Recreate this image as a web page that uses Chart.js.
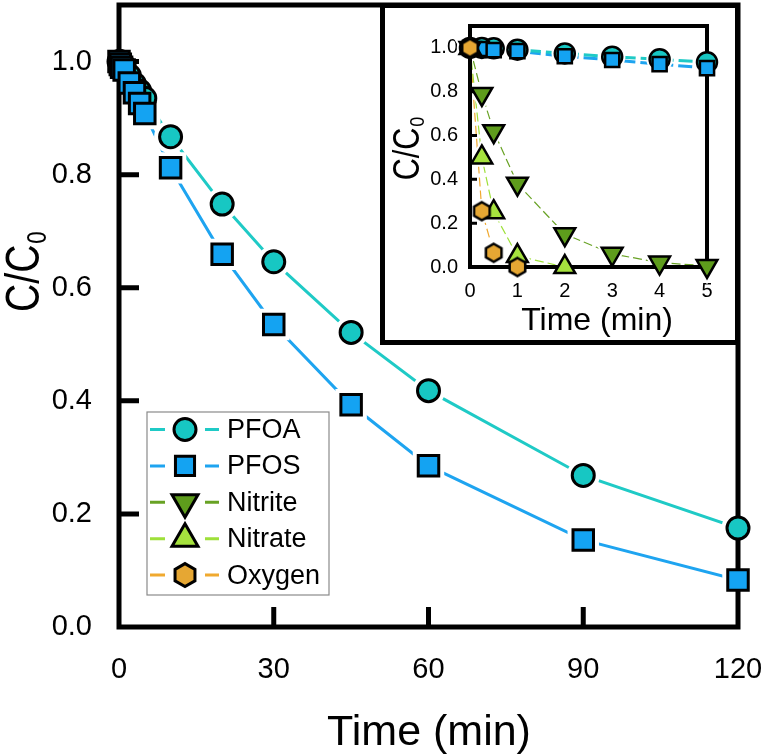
<!DOCTYPE html>
<html>
<head>
<meta charset="utf-8">
<script src="https://cdn.jsdelivr.net/npm/chart.js@4/dist/chart.umd.min.js"></script>
<style>
  html, body { margin: 0; padding: 0; background: #fff; }
  #wrap { position: relative; width: 766px; height: 756px; }
  #main { position: absolute; left: 0; top: 0; }
  #insetBox { position: absolute; left: 380px; top: 3px; width: 360px; height: 342px;
              box-sizing: border-box; border: 5px solid #000; background: #fff; }
  #inset { display: block; }
</style>
</head>
<body>
<div id="wrap">
  <canvas id="main" width="766" height="756"></canvas>
  <div id="insetBox"><canvas id="inset" width="350" height="332"></canvas></div>
</div>
<script>
// ---- data (C/C0 vs time in min) ----
const tMain = [0, 0.25, 0.5, 1, 2, 3, 4, 5, 10, 20, 30, 45, 60, 90, 120];
const pfoaMain = [1.0, 1.0, 0.998, 0.992, 0.975, 0.96, 0.948, 0.935, 0.867, 0.748, 0.646, 0.521, 0.418, 0.268, 0.175];
const pfosMain = [1.0, 0.995, 0.99, 0.985, 0.962, 0.945, 0.926, 0.908, 0.812, 0.659, 0.535, 0.393, 0.285, 0.154, 0.083];

const tInset = [0, 0.25, 0.5, 1, 2, 3, 4, 5];
const pfoaInset = [1.0, 1.0, 0.998, 0.992, 0.975, 0.96, 0.948, 0.935];
const pfosInset = [1.0, 0.995, 0.99, 0.985, 0.962, 0.945, 0.926, 0.908];
const tNitrite = [0, 0.25, 0.5, 1, 2, 3, 4, 5];
const nitrite = [1.0, 0.79, 0.62, 0.38, 0.15, 0.06, 0.02, 0.005];
const tNitrate = [0, 0.25, 0.5, 1, 2];
const nitrate = [1.0, 0.5, 0.25, 0.05, 0.0];
const tOxygen = [0, 0.25, 0.5, 1];
const oxygen = [1.0, 0.255, 0.065, 0.0];

const xTicksMain = [0, 30, 60, 90, 120];
const xTicksInset = [0, 1, 2, 3, 4, 5];
const yTicks = [0, 0.2, 0.4, 0.6, 0.8, 1.0];
const seriesNames = ["PFOA", "PFOS", "Nitrite", "Nitrate", "Oxygen"];

// ---- styles ----
const FONT = "'Liberation Sans', Arial, Helvetica, sans-serif";
Chart.defaults.font.family = FONT;
Chart.defaults.color = "#000";

const looks = {
  PFOA:    { fill: "#17c7c3", line: "#1fcac6", shape: "circle" },
  PFOS:    { fill: "#14a3f2", line: "#1ea4f0", shape: "rect" },
  Nitrite: { fill: "#5e9c1c", line: "#68a224", shape: "triangle", rot: 180 },
  Nitrate: { fill: "#a6e23e", line: "#9ee03a", shape: "triangle" },
  Oxygen:  { fill: "#e6a733", line: "#f0a92f", shape: "hexagon" }
};
const mainSizes = { circle: 11, rect: 14.5, triangle: 15, hexagon: 12 };
const insetSizes = { circle: 10, rect: 10, triangle: 12, hexagon: 9 };
const legendSizes = { circle: 11, rect: 13.5, triangle: 15, hexagon: 11.5 };

function hexPath(g, x, y, r) {
  g.beginPath();
  for (let k = 0; k < 6; k++) {
    const a = -Math.PI / 2 + k * Math.PI / 3;
    const px = x + r * Math.cos(a), py = y + r * Math.sin(a);
    if (k) g.lineTo(px, py); else g.moveTo(px, py);
  }
  g.closePath();
}
function hexCanvas(r, fill, bw) {
  const size = Math.ceil(2 * r + bw + 2);
  const c = document.createElement("canvas");
  c.width = size; c.height = size;
  const g = c.getContext("2d");
  hexPath(g, size / 2, size / 2, r);
  g.fillStyle = fill; g.fill();
  g.lineWidth = bw; g.strokeStyle = "#000"; g.stroke();
  return c;
}
function drawMark(ctx, shape, x, y, r, rot, fill, bw) {
  ctx.save();
  ctx.translate(x, y);
  ctx.rotate((rot || 0) * Math.PI / 180);
  if (shape === "hexagon") {
    hexPath(ctx, 0, 0, r);
  } else {
    ctx.beginPath();
    if (shape === "circle") ctx.arc(0, 0, r, 0, Math.PI * 2);
    else if (shape === "rect") { const h = r * Math.SQRT1_2; ctx.rect(-h, -h, 2 * h, 2 * h); }
    else {
      for (let k = 0; k < 3; k++) {
        const a = -Math.PI / 2 + k * 2 * Math.PI / 3;
        if (k) ctx.lineTo(r * Math.cos(a), r * Math.sin(a)); else ctx.moveTo(r * Math.cos(a), r * Math.sin(a));
      }
    }
    ctx.closePath();
  }
  ctx.fillStyle = fill; ctx.fill();
  ctx.lineWidth = bw; ctx.strokeStyle = "#000"; ctx.stroke();
  ctx.restore();
}

// one series = line + white halo (gap round the symbol) + symbol
function buildSets(name, xs, ys, k, sz, look) {
  const st = looks[name];
  const pts = xs.map((x, i) => ({ x: x, y: ys[i] }));
  const r = sz[st.shape];
  const markStyle = st.shape === "hexagon" ? hexCanvas(r, st.fill, look.bw) : st.shape;
  const haloStyle = st.shape === "hexagon" ? "circle" : st.shape;
  const haloR = st.shape === "rect" ? r + look.gap * 1.4 : st.shape === "triangle" ? r + look.gap * 2 : r + look.gap;
  return [
    { role: "line", data: pts, borderColor: st.line, borderWidth: look.lw[k], borderDash: look.dash[k],
      pointRadius: 0, fill: false, tension: 0, order: 40 },
    { role: "halo", data: pts, showLine: false, pointStyle: haloStyle, pointRotation: st.rot || 0,
      pointRadius: haloR, pointBackgroundColor: "#fff", pointBorderColor: "#fff", pointBorderWidth: look.bw,
      order: 30, clip: false },
    { role: "marker", data: pts, showLine: false, pointStyle: markStyle, pointRotation: st.rot || 0,
      pointRadius: r, pointBackgroundColor: st.fill, pointBorderColor: "#000", pointBorderWidth: look.bw,
      order: 20 - k, clip: false }
  ];
}

// frame + inward ticks, drawn over halos but under symbols
function drawFrame(chart, o) {
  const { ctx, chartArea: a, scales: { x, y } } = chart;
  ctx.save();
  ctx.strokeStyle = "#000";
  ctx.lineWidth = o.width;
  ctx.lineJoin = "miter";
  ctx.strokeRect(a.left, a.top, a.right - a.left, a.bottom - a.top);
  ctx.lineWidth = o.tickWidth;
  ctx.beginPath();
  if (o.xTick) {
    x.ticks.forEach(t => {
      const px = x.getPixelForValue(t.value);
      if (px > a.left + 2 && px < a.right - 2) { ctx.moveTo(px, a.bottom); ctx.lineTo(px, a.bottom - o.xTick); }
    });
  }
  if (o.yTick) {
    y.ticks.forEach(t => {
      const py = y.getPixelForValue(t.value);
      if (py > a.top + 2 && py < a.bottom - 2) { ctx.moveTo(a.left, py); ctx.lineTo(a.left + o.yTick, py); }
    });
  }
  ctx.stroke();
  ctx.restore();
}
const framePlugin = {
  id: "frame",
  beforeDatasetsDraw(chart) { chart.$frameDone = false; },
  beforeDatasetDraw(chart, args, opts) {
    const ds = chart.data.datasets[args.index];
    if (ds.role === "marker" && !chart.$frameDone) {
      drawFrame(chart, opts);
      chart.$frameDone = true;
    }
  }
};

// axis titles (C/C0 needs a subscript)
const titlePlugin = {
  id: "axisTitles",
  afterDraw(chart, args, o) {
    const ctx = chart.ctx;
    ctx.save();
    ctx.fillStyle = "#000";
    ctx.textBaseline = "alphabetic";
    ctx.textAlign = "center";
    ctx.font = `${o.x.size}px ${FONT}`;
    ctx.fillText(o.x.text, o.x.cx, o.x.base);

    ctx.translate(o.y.cx, o.y.cy);
    ctx.rotate(-Math.PI / 2);
    ctx.scale(o.y.squeeze, 1);
    ctx.textAlign = "left";
    ctx.font = `${o.y.size}px ${FONT}`;
    const w1 = ctx.measureText("C/C").width;
    ctx.font = `${o.y.sub}px ${FONT}`;
    const w2 = ctx.measureText("0").width;
    const x0 = -(w1 + w2) / 2;
    const base = o.y.size * 0.36;
    ctx.font = `${o.y.size}px ${FONT}`;
    ctx.fillText("C/C", x0, base);
    ctx.font = `${o.y.sub}px ${FONT}`;
    ctx.fillText("0", x0 + w1 + 1, base + o.y.drop);
    ctx.restore();
  }
};

// boxed legend with line + symbol samples
const legendPlugin = {
  id: "sampleLegend",
  afterDraw(chart, args, o) {
    const ctx = chart.ctx;
    ctx.save();
    ctx.fillStyle = "#fff";
    ctx.fillRect(o.left, o.top, o.right - o.left, o.bottom - o.top);
    ctx.strokeStyle = "#8a8a8a";
    ctx.lineWidth = 1.2;
    ctx.strokeRect(o.left, o.top, o.right - o.left, o.bottom - o.top);
    seriesNames.forEach((name, i) => {
      const st = looks[name];
      const y = o.rowY + i * o.rowStep;
      ctx.strokeStyle = st.line;
      ctx.lineWidth = 3;
      ctx.beginPath();
      ctx.moveTo(o.lineX1, y); ctx.lineTo(o.markX - o.gap, y);
      ctx.moveTo(o.markX + o.gap, y); ctx.lineTo(o.lineX2, y);
      ctx.stroke();
      drawMark(ctx, st.shape, o.markX, y, legendSizes[st.shape], st.rot, st.fill, 3);
      ctx.fillStyle = "#000";
      ctx.font = `${o.size}px ${FONT}`;
      ctx.textBaseline = "middle";
      ctx.textAlign = "left";
      ctx.fillText(name, o.textX, y + 1);
    });
    ctx.restore();
  }
};

function fixedTicks(list) {
  return s => { s.ticks = list.map(v => ({ value: v })); };
}
// force the axis box size and drop the label overflow padding
function fitBox(w, h) {
  return s => {
    if (w !== null) s.width = w;
    if (h !== null) s.height = h;
    s.paddingTop = 0; s.paddingBottom = 0; s.paddingLeft = 0; s.paddingRight = 0;
  };
}

// ---- main chart ----
const mainLook = { bw: 3, gap: 4, lw: [3, 3], dash: [[], []] };
const mainSets = [].concat(
  buildSets("PFOA", tMain, pfoaMain, 0, mainSizes, mainLook),
  buildSets("PFOS", tMain, pfosMain, 1, mainSizes, mainLook)
);

new Chart(document.getElementById("main"), {
  type: "line",
  data: { datasets: mainSets },
  options: {
    responsive: false, animation: false, events: [], devicePixelRatio: 1,
    layout: { autoPadding: false, padding: { left: 0, top: 5, right: 28, bottom: 0 } },
    plugins: {
      legend: { display: false }, tooltip: { enabled: false },
      frame: { width: 5, tickWidth: 5, xTick: 20, yTick: 20 },
      axisTitles: {
        x: { text: "Time (min)", size: 43, cx: 429, base: 745 },
        y: { cx: 21, cy: 272, size: 49, sub: 28, drop: 7, squeeze: 0.8 }
      },
      sampleLegend: { left: 147, top: 412, right: 329, bottom: 595, rowY: 429.5, rowStep: 36.4,
                      lineX1: 150, lineX2: 219, markX: 185, gap: 20, textX: 227, size: 27 }
    },
    scales: {
      x: {
        type: "linear", min: 0, max: 120,
        afterBuildTicks: fixedTicks(xTicksMain),
        afterFit: fitBox(null, 129),
        grid: { display: false, drawTicks: false }, border: { display: false },
        ticks: { font: { size: 29 }, padding: 26, maxRotation: 0, autoSkip: false, callback: v => String(v) }
      },
      y: {
        type: "linear", min: 0, max: 1.1,
        afterBuildTicks: fixedTicks(yTicks),
        afterFit: fitBox(119, null),
        grid: { display: false, drawTicks: false }, border: { display: false },
        ticks: { font: { size: 29 }, padding: 27, autoSkip: false, callback: v => v.toFixed(1) }
      }
    }
  },
  plugins: [framePlugin, titlePlugin, legendPlugin]
});

// ---- inset chart ----
const insetLook = { bw: 2.5, gap: 2, lw: [3, 3, 1.2, 1.2, 1.2], dash: [[14, 5], [14, 5], [9, 4], [9, 4], [9, 4]] };
const insetSets = [].concat(
  buildSets("PFOA", tInset, pfoaInset, 0, insetSizes, insetLook),
  buildSets("PFOS", tInset, pfosInset, 1, insetSizes, insetLook),
  buildSets("Nitrite", tNitrite, nitrite, 2, insetSizes, insetLook),
  buildSets("Nitrate", tNitrate, nitrate, 3, insetSizes, insetLook),
  buildSets("Oxygen", tOxygen, oxygen, 4, insetSizes, insetLook)
);

new Chart(document.getElementById("inset"), {
  type: "line",
  data: { datasets: insetSets },
  options: {
    responsive: false, animation: false, events: [], devicePixelRatio: 1,
    layout: { autoPadding: false, padding: { left: 0, top: 18, right: 28, bottom: 0 } },
    plugins: {
      legend: { display: false }, tooltip: { enabled: false },
      frame: { width: 4, tickWidth: 3, xTick: 0, yTick: 7 },
      axisTitles: {
        x: { text: "Time (min)", size: 32, cx: 212, base: 322 },
        y: { cx: 21, cy: 141, size: 36, sub: 21, drop: 5, squeeze: 0.85 }
      }
    },
    scales: {
      x: {
        type: "linear", min: 0, max: 5,
        afterBuildTicks: fixedTicks(xTicksInset),
        afterFit: fitBox(null, 73),
        grid: { display: false, drawTicks: false }, border: { display: false },
        ticks: { font: { size: 20 }, padding: 12, maxRotation: 0, autoSkip: false, callback: v => String(v) }
      },
      y: {
        type: "linear", min: 0, max: 1.1,
        afterBuildTicks: fixedTicks(yTicks),
        afterFit: fitBox(85, null),
        grid: { display: false, drawTicks: false }, border: { display: false },
        ticks: { font: { size: 20 }, padding: 12, autoSkip: false, callback: v => v.toFixed(1) }
      }
    }
  },
  plugins: [framePlugin, titlePlugin]
});
</script>
</body>
</html>
